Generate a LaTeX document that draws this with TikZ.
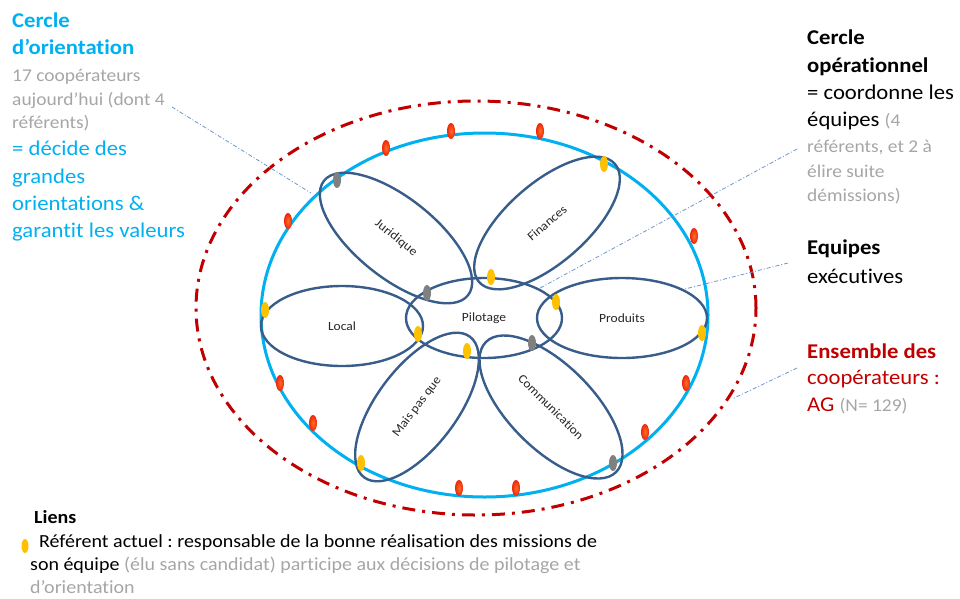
\documentclass[tikz,border=0pt]{standalone}
\usepackage{fontspec}
\setmainfont{Carlito}[FakeStretch=1.08, Ligatures=NoCommon]
\usetikzlibrary{shapes.geometric}
\frenchspacing

\definecolor{orientblue}{RGB}{0,176,240}
\definecolor{petalblue}{RGB}{56,93,138}
\definecolor{agred}{RGB}{192,0,0}
\definecolor{txtgray}{RGB}{166,166,166}
\definecolor{labelgray}{RGB}{38,38,38}
\definecolor{leadblue}{RGB}{110,150,205}
\definecolor{refgold}{RGB}{255,192,0}
\definecolor{pilotgray}{RGB}{128,128,128}
\definecolor{memberred}{RGB}{235,40,10}
\definecolor{memberorange}{RGB}{255,110,40}

\tikzset{
	petal/.style={ellipse, draw=petalblue, line width=2.4pt, inner sep=0pt, minimum height=80, text=labelgray, font=\fontsize{12.5}{14}\selectfont},
	mark base/.style={ellipse, inner sep=0pt, minimum width=8, minimum height=16},
	redmark/.style={mark base, inner color=memberorange, outer color=memberred},
	goldmark/.style={mark base, fill=refgold},
	greymark/.style={mark base, fill=pilotgray},
	leader/.style={draw=leadblue, line width=0.8pt, dash pattern=on 4pt off 2pt on 1pt off 2pt},
	block/.style={anchor=north west, inner sep=0pt, align=left},
}

\begin{document}
\begin{tikzpicture}[x=1pt, y=1pt]
	\useasboundingbox (0,0) rectangle (960,-598);

	% the two big circles
	\node[ellipse, draw=agred, line width=3pt, dash pattern=on 13pt off 7pt on 3pt off 7pt, minimum width=560, minimum height=414, inner sep=0pt] (ag) at (476,-308) {};
	\node[ellipse, draw=orientblue, line width=3pt, minimum width=447, minimum height=364, inner sep=0pt] (orient) at (484.5,-315) {};

	% teams
	\node[petal, minimum width=156] (pil) at (484,-318) {Pilotage};
	\node[petal, minimum width=170] (prod) at (622,-318) {Produits};
	\node[petal, minimum width=162] (loc) at (342,-326) {Local};
	\node[petal, rotate=-38.5, minimum width=184] (jur) at (396,-238) {Juridique};
	\node[petal, rotate=41, minimum width=180] (fin) at (547,-223) {Finances};
	\node[petal, rotate=53, minimum width=176] (mpq) at (417,-407) {Mais pas que};
	\node[petal, rotate=-45, minimum width=184, minimum height=84] (com) at (551,-407) {Communication};

	% leaders
	\coordinate (orLead) at (172,-107);
	\coordinate (jurLead) at (311,-193);
	\coordinate (opLead) at (797,-149);
	\coordinate (pilLead) at (540,-288);
	\coordinate (exLead) at (788,-263);
	\coordinate (prodLead) at (685,-289);
	\coordinate (agLead) at (797,-368);
	\coordinate (redLead) at (732,-399);
	\draw[leader] (orLead) -- (jurLead);
	\draw[leader] (opLead) -- (pilLead);
	\draw[leader] (exLead) -- (prodLead);
	\draw[leader] (agLead) -- (redLead);

	% members, referents and pilots
	\foreach \x/\y [count=\i] in {386/148, 451/131, 540/131, 288/221, 694/236, 280/383, 313/423, 459/488, 516/488, 645/432, 686/383}
	{
		\node[redmark] (red\i) at (\x,-\y) {};
	}
	\foreach \x/\y [count=\i] in {604/164, 491/277, 556/302, 265/310, 418/334, 467/351, 702/333, 361/463}
	{
		\node[goldmark] (gold\i) at (\x,-\y) {};
	}
	\foreach \x/\y [count=\i] in {337/180, 427/293, 532/343, 613/463}
	{
		\node[greymark] (grey\i) at (\x,-\y) {};
	}

	% left texts
	\node[block, text=orientblue, font=\bfseries\fontsize{21}{27}\selectfont] (orTitle) at (12,-13) {Cercle\\d’orientation};
	\node[block, text=txtgray, font=\fontsize{18}{23.5}\selectfont] (orCount) at (12,-69.2) {17 coopérateurs\\aujourd’hui (dont 4\\référents)};
	\node[block, text=orientblue, font=\fontsize{21}{27.3}\selectfont] (orRole) at (12,-141) {= décide des\\grandes\\orientations \&\\garantit les valeurs};

	% right texts
	\node[block, font=\bfseries\fontsize{21}{28}\selectfont] (opTitle) at (807,-30) {Cercle\\opérationnel};
	\node[block, font=\fontsize{21}{27}\selectfont] (opRole) at (807,-85) {= coordonne les\\équipes {\color{txtgray}\fontsize{18}{24}\selectfont(4}};
	\node[block, text=txtgray, font=\fontsize{18}{24.5}\selectfont] (opCount) at (807,-140.2) {référents, et 2 à\\élire suite\\démissions)};
	\node[block, font=\fontsize{21}{29}\selectfont] (exTitle) at (807,-239.2) {\textbf{Equipes}\\exécutives};
	\node[block, text=agred, font=\fontsize{21}{26.5}\selectfont] (agTitle) at (807,-343.5) {\textbf{Ensemble des}\\coopérateurs :\\AG {\color{txtgray}\fontsize{18}{24}\selectfont(N= 129)}};

	% legend
	\node[anchor=base west, inner sep=0pt, font=\bfseries\fontsize{18.5}{22}\selectfont] (liens) at (34,-523) {Liens};
	\node[goldmark, minimum width=7, minimum height=14] (refDot) at (25,-546) {};
	\node[block, font=\fontsize{18.5}{22.8}\selectfont] (refText) at (30,-534.6) {\hspace*{9pt}Référent actuel : responsable de la bonne réalisation des missions de\\son équipe {\color{txtgray}(élu sans candidat) participe aux décisions de pilotage et}\\{\color{txtgray}d’orientation}};
\end{tikzpicture}
\end{document}
